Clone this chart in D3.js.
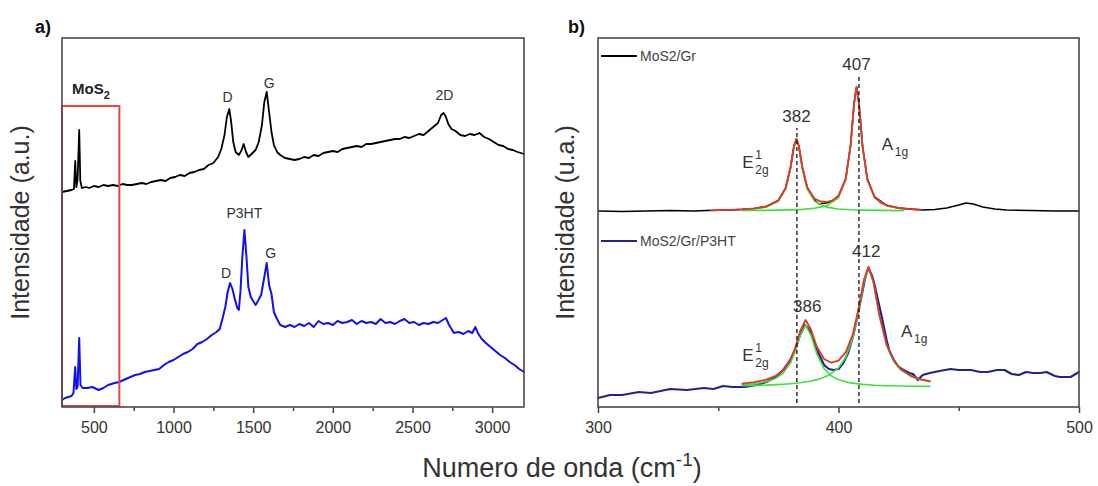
<!DOCTYPE html>
<html><head><meta charset="utf-8">
<script src="https://cdn.jsdelivr.net/npm/d3@7"></script>
<style>body{margin:0;background:#fff;} text{font-family:"Liberation Sans",Arial,sans-serif;}</style>
</head><body><svg id="c" width="1098" height="486"></svg>
<script>
// ---------- Panel a data (wavenumber cm-1, intensity a.u.) ----------
const aBlackX = [300,330,360,375,383,390,398,408,415,425,450,470,500,530,560,590,620,650,680,710,740,770,800,830,860,890,920,950,980,1010,1040,1070,1100,1130,1160,1190,1220,1250,1280,1300,1320,1335,1350,1362,1375,1390,1410,1425,1440,1455,1470,1490,1515,1535,1555,1570,1585,1600,1615,1630,1650,1670,1700,1730,1760,1790,1820,1850,1880,1910,1940,1970,2000,2030,2060,2090,2120,2150,2180,2210,2240,2270,2300,2330,2360,2390,2420,2450,2480,2510,2540,2570,2600,2630,2660,2680,2695,2710,2725,2745,2770,2800,2830,2860,2890,2920,2950,2980,3010,3040,3070,3100,3130,3160,3200];
const aBlackY = [215,216,217,218,246,220,228,277,226,219,220,219,221,220,222,221,222,221,223,222,222,223,224,223,225,226,227,226,229,230,232,231,234,235,237,238,242,244,250,258,272,290,298,285,265,255,252,256,263,255,250,253,257,265,282,305,315,295,275,262,255,252,249,248,247,248,250,249,252,251,254,255,256,255,258,259,260,261,260,263,263,264,265,266,267,268,268,270,269,271,273,272,276,280,284,292,294,290,283,278,276,272,271,273,272,274,270,268,265,262,261,258,257,255,253];
const aBlueX = [300,320,340,360,372,383,390,398,408,416,430,460,490,530,560,590,630,660,700,730,760,790,820,850,880,910,940,970,1000,1030,1060,1090,1120,1150,1180,1210,1240,1270,1290,1310,1325,1340,1355,1370,1385,1400,1410,1420,1432,1445,1458,1470,1485,1500,1515,1530,1550,1570,1585,1600,1615,1630,1650,1670,1700,1730,1760,1790,1820,1850,1880,1910,1940,1970,2000,2030,2060,2090,2120,2150,2180,2210,2240,2270,2300,2330,2360,2390,2420,2450,2480,2510,2540,2570,2600,2630,2660,2690,2710,2730,2760,2790,2820,2850,2875,2895,2910,2935,2960,2990,3020,3050,3080,3110,3140,3170,3200];
const aBlueY = [7,9,10,11,14,40,18,20,69,22,19,19,20,17,19,22,24,25,28,30,32,33,35,36,37,38,42,45,47,50,53,55,58,63,65,68,72,75,78,90,100,115,124,118,108,99,97,115,150,177,150,120,110,106,102,106,112,130,144,122,113,95,88,82,80,82,80,83,81,84,80,86,83,84,82,86,84,85,87,83,86,84,85,83,88,84,85,83,86,88,84,85,82,84,83,85,84,87,89,82,74,75,73,76,74,80,74,68,64,60,56,52,49,45,42,38,35];
const aTicks = [500,1000,1500,2000,2500,3000];
const aMinor = [750,1250,1750,2250,2750];
const aBox = [300,660,1,301]; // x from, x to, y from, y to (MoS2 region)
const aLabels = [
  {t:"D", x:1340, y:305, c:"#333"}, {t:"G", x:1600, y:319, c:"#333"}, {t:"2D", x:2700, y:307, c:"#333"},
  {t:"P3HT", x:1445, y:189, c:"#333"}, {t:"D", x:1330, y:129, c:"#333"}, {t:"G", x:1610, y:149, c:"#333"}
];

// ---------- Panel b data ----------
const bTopX = [300,310,320,330,340,345,350,355,360,365,370,375,378,380,381.5,382.5,383.5,385,387,390,392,395,398,400,403,405,406.5,407.5,408.5,410,412,415,420,425,430,435,440,445,450,453,456,460,465,470,480,490,500];
const bTopY = [196,195.5,196,196.5,196,196.5,196.8,197,197.6,198.5,200.5,206.6,218.8,239,261,268,261,239,219,207,203,204,207,211,228,261,304,320,304,261,228,210,201.6,199,197.9,197,197.5,199,202,204,203,200,198,197,196.5,196,196];
const bTopFitX = [347,355,360,365,370,375,378,380,381.5,382.5,383.5,385,387,390,392.5,395,397.5,400,403,405,406.5,407.5,408.5,410,412,415,417.5,420,425,430,434];
const bTopFitY = [196.7,197.2,197.6,198.6,200.5,206.6,218.8,239,261.1,268.3,261.3,239.5,219.8,208.5,205.5,205,206.5,211.2,228.3,261.3,304,320,304,260.8,227.5,209.8,204.3,201.6,199,197.9,197.4];
const bTopE2gX = [360,365,370,375,378,380,381.5,382.5,383.5,385,387,390,395,400,405,410,418,427];
const bTopE2gY = [197.3,198,199.9,205.8,217.8,237.9,259.9,267,259.9,237.9,217.8,205.8,199.9,198,197.3,196.9,196.6,196.4];
const bTopA1gX = [360,370,380,385,390,395,400,403,405,406.5,407.5,408.5,410,412,415,420,427];
const bTopA1gY = [196.5,196.6,197.1,197.6,198.7,201.1,209.2,226.8,260,303,319,303,260,226.8,209.2,201.1,198];

const bBotX = [300,305,310,317,322,330,337,344,348,352,356,361,366,370,374,377,380,382,384,386,388,389.5,392,394,396,398,400,402,404,406,408,409.5,411,412.4,414,415,416.5,418,420,421,423,425,427,429.5,431,433,435,438,442,446.6,450,455,459,462,466,469,472,475,478,481,484,486.5,490,492,496.5,500];
const bBotY = [9,12,12,15,14,18,17,19,18,21,20,20,22,25,30,37,47,57,72,82,77,67,52,42,38,37,38,44,54,70,92,110,128,139,131,122,106,90,67,57,47,40,37,34,33,27,32,34,36,38,37,37,35,35,37,37,33,32,35,34,34,35,31,30,30,35];
const bBotFitX = [360,365,370,374,377,380,382,384,386.3,388.5,391,394,397,400,403,406,408.5,410.5,412.5,414.5,417,420,423,426,430,434,438];
const bBotFitY = [23.4,24.8,27.3,31.2,36.7,47.2,59.3,75.5,87,77.8,60.2,48,44.3,46.4,54.7,73,100.1,126.7,140.2,126.1,92.3,62.6,46.5,37.8,31.4,27.9,25.8];
const bBotE2gX = [360,365,370,374,377,380,382,384,386.3,388.5,391,394,397,400,405,410,415,420,425,430,438];
const bBotE2gY = [22.2,23.2,25.3,28.8,33.9,43.9,55.6,71.2,82,71.9,53,38.4,31.1,27.3,24.1,22.6,21.8,21.3,21,20.8,20.6];
const bBotA1gX = [360,365,370,374,377,380,384,388,392,396,400,403,406,408.5,410.5,412.5,414.5,417,420,423,426,430,434,438];
const bBotA1gY = [21.3,21.6,21.9,22.4,22.8,23.3,24.2,25.7,27.9,31.8,39.1,49.6,69.2,97.1,124.2,138,124.2,90.7,61.3,45.4,36.8,30.6,27.2,25.2];

const bTicks = [300,400,500];
const bMinor = [350,450];
const bDash = [{x:382.7, y0:4, y1:279},{x:408.5, y0:4, y1:331}];
const bLegend = [{t:"MoS2/Gr", c:"#000", y:351},{t:"MoS2/Gr/P3HT", c:"#23238e", y:166}];
const bNums = [{t:"407",x:407.5,y:337},{t:"382",x:382.5,y:285},{t:"412",x:411.5,y:150},{t:"386",x:387,y:95}];
const bModes = [
  {base:"E", sup:"1", sub:"2g", x:360, y:239},
  {base:"A", sup:"", sub:"1g", x:418, y:257},
  {base:"E", sup:"1", sub:"2g", x:360, y:46},
  {base:"A", sup:"", sub:"1g", x:426, y:70}
];

// ---------- Drawing ----------
const svg = d3.select("#c");
const A = {x0:62,x1:524,y0:38,y1:407};
const B = {x0:598,x1:1079,y0:38,y1:407};
const xa = d3.scaleLinear().domain([300,3200]).range([A.x0,A.x1]);
const ya = d3.scaleLinear().domain([0,369]).range([A.y1,A.y0]);
const xb = d3.scaleLinear().domain([300,500]).range([B.x0,B.x1]);
const yb = d3.scaleLinear().domain([0,369]).range([B.y1,B.y0]);

function axis(scale, ticks, minor, y){
  const g = svg.append("g").attr("transform",`translate(0,${y})`)
    .call(d3.axisBottom(scale).tickValues(ticks).tickFormat(d3.format("d")).tickSize(6).tickPadding(9));
  g.select(".domain").remove();
  g.selectAll(".tick line").attr("stroke","#444").attr("stroke-width",1.5);
  g.selectAll(".tick text").attr("fill","#333").style("font-size","16px")
    .style("font-family",'"Liberation Sans",Arial,sans-serif');
  const g2 = svg.append("g").attr("transform",`translate(0,${y})`)
    .call(d3.axisBottom(scale).tickValues(minor).tickSize(4).tickFormat(""));
  g2.select(".domain").remove();
  g2.selectAll(".tick line").attr("stroke","#444").attr("stroke-width",1.5);
}
axis(xa, aTicks, aMinor, A.y1);
axis(xb, bTicks, bMinor, B.y1);

function line(xs, ys, sx, sy, color, w){
  const pts = d3.zip(xs, ys);
  svg.append("path").datum(pts)
    .attr("d", d3.line().x(d=>sx(d[0])).y(d=>sy(d[1])))
    .attr("fill","none").attr("stroke",color).attr("stroke-width",w)
    .attr("stroke-linejoin","round").attr("stroke-linecap","round");
}

// panel a
line(aBlackX, aBlackY, xa, ya, "#000", 1.8);
line(aBlueX, aBlueY, xa, ya, "#1010f0", 2);
svg.append("rect").attr("x",xa(aBox[0])).attr("y",ya(aBox[3]))
  .attr("width",xa(aBox[1])-xa(aBox[0])).attr("height",ya(aBox[2])-ya(aBox[3]))
  .attr("fill","none").attr("stroke","#e8463f").attr("stroke-width",2);
svg.append("text").attr("x",72).attr("y",ya(aBox[3])-12).attr("fill","#222")
  .style("font-size","15px").style("font-weight","bold")
  .text("MoS").append("tspan").attr("dy",5).style("font-size","11px").text("2");
svg.selectAll(".alab").data(aLabels).join("text").attr("class","alab")
  .attr("x",d=>xa(d.x)).attr("y",d=>ya(d.y)).attr("text-anchor","middle")
  .attr("fill",d=>d.c).style("font-size","14px").text(d=>d.t);

// panel b
line(bTopX, bTopY, xb, yb, "#000", 1.6);
line(bTopE2gX, bTopE2gY, xb, yb, "#3ee03e", 1.6);
line(bTopA1gX, bTopA1gY, xb, yb, "#3ee03e", 1.6);
line(bTopFitX, bTopFitY, xb, yb, "#e8322c", 1.8);
line(bBotX, bBotY, xb, yb, "#23238e", 2.2);
line(bBotE2gX, bBotE2gY, xb, yb, "#3ee03e", 1.6);
line(bBotA1gX, bBotA1gY, xb, yb, "#3ee03e", 1.6);
line(bBotFitX, bBotFitY, xb, yb, "#e8322c", 1.8);

svg.selectAll(".dash").data(bDash).join("line").attr("class","dash")
  .attr("x1",d=>xb(d.x)).attr("x2",d=>xb(d.x)).attr("y1",d=>yb(d.y0)).attr("y2",d=>yb(d.y1))
  .attr("stroke","#111").attr("stroke-width",1.3).attr("stroke-dasharray","4,3");

svg.selectAll(".num").data(bNums).join("text").attr("class","num")
  .attr("x",d=>xb(d.x)).attr("y",d=>yb(d.y)).attr("text-anchor","middle")
  .attr("fill","#333").style("font-size","17px").text(d=>d.t);

bModes.forEach(m=>{
  const x = xb(m.x), y = yb(m.y);
  svg.append("text").attr("x",x).attr("y",y).attr("fill","#333").style("font-size","17px").text(m.base);
  if(m.sup) svg.append("text").attr("x",x+13).attr("y",y-9).attr("fill","#333").style("font-size","12px").text(m.sup);
  svg.append("text").attr("x",x+13).attr("y",y+6).attr("fill","#333").style("font-size","12px").text(m.sub);
});

const lg = svg.selectAll(".lg").data(bLegend).join("g").attr("class","lg");
lg.append("line").attr("x1",B.x0+3).attr("x2",B.x0+39).attr("y1",d=>yb(d.y)).attr("y2",d=>yb(d.y))
  .attr("stroke",d=>d.c).attr("stroke-width",2);
lg.append("text").attr("x",B.x0+42).attr("y",d=>yb(d.y)+5).attr("fill","#444")
  .style("font-size","14px").text(d=>d.t);

// frames
[A,B].forEach(p=>{
  svg.append("rect").attr("x",p.x0).attr("y",p.y0).attr("width",p.x1-p.x0).attr("height",p.y1-p.y0)
    .attr("fill","none").attr("stroke","#4a4a4a").attr("stroke-width",1.6);
});

// titles
svg.append("text").attr("x",35).attr("y",33).style("font-size","18px").style("font-weight","bold").attr("fill","#111").text("a)");
svg.append("text").attr("x",568).attr("y",33).style("font-size","18px").style("font-weight","bold").attr("fill","#111").text("b)");
svg.append("text").attr("transform",`translate(29,${(A.y0+A.y1)/2}) rotate(-90)`).attr("text-anchor","middle")
  .attr("fill","#333").style("font-size","25px").text("Intensidade (a.u.)");
svg.append("text").attr("transform",`translate(574,${(B.y0+B.y1)/2}) rotate(-90)`).attr("text-anchor","middle")
  .attr("fill","#333").style("font-size","25px").text("Intensidade (u.a.)");
const xt = svg.append("text").attr("x",562).attr("y",477).attr("text-anchor","middle")
  .attr("fill","#333").style("font-size","27px").text("Numero de onda (cm");
xt.append("tspan").attr("dy",-11).style("font-size","19px").text("-1");
xt.append("tspan").attr("dy",11).text(")");
</script></body></html>
